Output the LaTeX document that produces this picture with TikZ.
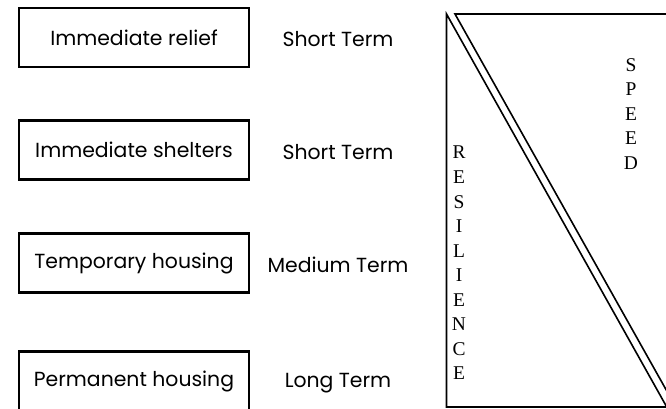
\documentclass[tikz,border=0pt]{standalone}
\usepackage{fontspec}
\setmainfont{Poppins}
\newfontfamily\serifletters{Liberation Serif}
\begin{document}
\begin{tikzpicture}[x=0.75pt,y=-0.75pt,
  stagebox/.style={draw,line width=1.8pt,minimum width=172.5pt,minimum height=44.25pt,inner sep=0pt,font=\fontsize{15.3}{18}\selectfont},
  termlabel/.style={inner sep=0pt,font=\fontsize{15.3}{18}\selectfont},
  vertword/.style={inner sep=0pt,align=center,font=\serifletters\fontsize{14.6}{18.4}\selectfont},
  triline/.style={line width=1.2pt}]
\useasboundingbox (0,0) rectangle (666,409);
\clip (0,0) rectangle (666,409);
\node[stagebox] (b1) at (134,37.5) {Immediate relief};
\node[stagebox] (b2) at (134,150) {Immediate shelters};
\node[stagebox] (b3) at (134,263) {Temporary housing};
\node[stagebox] (b4) at (134,381) {Permanent housing};
\node[termlabel] (t1) at (338,39) {Short Term};
\node[termlabel] (t2) at (338,152) {Short Term};
\node[termlabel] (t3) at (338,265) {Medium Term};
\node[termlabel] (t4) at (338,383) {Long Term};
% left triangle
\draw[triline] (690,407) -- (446.5,407) -- (446.5,14) -- (690,448.5);
% right triangle
\draw[triline] (690,14) -- (455,14) -- (690,432.3);
\node[vertword] (res) at (459,263) {R\\E\\S\\I\\L\\I\\E\\N\\C\\E};
\node[vertword] (spd) at (631,114) {S\\P\\E\\E\\D};
\end{tikzpicture}
\end{document}
